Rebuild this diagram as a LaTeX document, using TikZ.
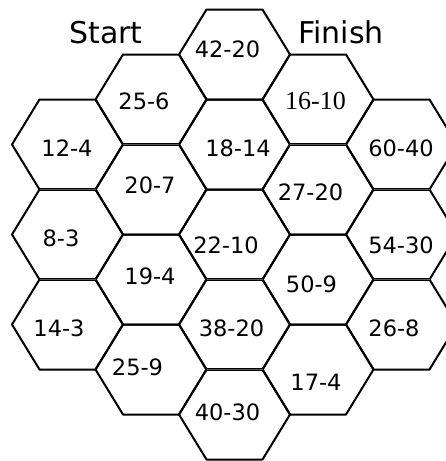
\documentclass[tikz,border=0pt]{standalone}
\usepackage{fontspec}
\setmainfont{DejaVu Sans}
\newfontfamily\serifnum{Liberation Serif}
\begin{document}
\begin{tikzpicture}[x=1pt,y=-1pt,
  hexline/.style={line width=2pt, line join=round},
  seam/.style={line width=1.5pt, double=black!65, double distance=0.7pt},
  lbl/.style={font=\fontsize{22.5}{24}\selectfont, inner sep=0pt},
  title/.style={font=\fontsize{30}{32}\selectfont, inner sep=0pt}]
\useasboundingbox (0,0) rectangle (446,461);
\clip (0,0) rectangle (446,461);
% hexagons
\foreach \cx/\cy in {67.5/144.5, 67.5/234.5, 67.5/324.5,
                     151/99.5, 151/189.5, 151/279.5, 151/369.5,
                     234.5/54.5, 234.5/144.5, 234.5/234.5, 234.5/324.5, 234.5/414.5,
                     318/99.5, 318/189.5, 318/279.5, 318/369.5,
                     401.5/144.5, 401.5/234.5, 401.5/324.5}
  \draw[hexline] (\cx-55.5,\cy) -- (\cx-28,\cy-45) -- (\cx+28,\cy-45)
     -- (\cx+55.5,\cy) -- (\cx+28,\cy+45) -- (\cx-28,\cy+45) -- cycle;
% heavier shared edges
\foreach \cx/\cy in {67.5/189.5, 67.5/279.5, 151/144.5, 234.5/279.5, 234.5/369.5,
                     318/144.5, 401.5/189.5, 401.5/279.5}
  \draw[seam] (\cx-28,\cy) -- (\cx+28,\cy);
% titles
\node[title] (start) at (106,32.5) {Start};
\node[title] (finish) at (341,32) {Finish};
% labels
\node[lbl] (h4220) at (227.5,49) {42-20};
\node[lbl] (h256) at (144,101.5) {25-6};
\node[lbl,font=\serifnum\fontsize{26}{28}\selectfont] (h1610) at (315.5,101) {16-10};
\node[lbl] (h124) at (67,148.5) {12-4};
\node[lbl] (h1814) at (238,148.5) {18-14};
\node[lbl] (h6040) at (401,148.5) {60-40};
\node[lbl] (h207) at (150,185) {20-7};
\node[lbl] (h2720) at (310.5,192.5) {27-20};
\node[lbl] (h83) at (61,238.5) {8-3};
\node[lbl] (h2210) at (226,245) {22-10};
\node[lbl] (h5430) at (401,245) {54-30};
\node[lbl] (h194) at (150,276.5) {19-4};
\node[lbl] (h509) at (311.5,284) {50-9};
\node[lbl] (h143) at (59,328.5) {14-3};
\node[lbl] (h3820) at (231.5,328.5) {38-20};
\node[lbl] (h268) at (394,328.5) {26-8};
\node[lbl] (h259) at (137.5,367.5) {25-9};
\node[lbl] (h174) at (316,382.5) {17-4};
\node[lbl] (h4030) at (227.5,412.5) {40-30};
\end{tikzpicture}
\end{document}
